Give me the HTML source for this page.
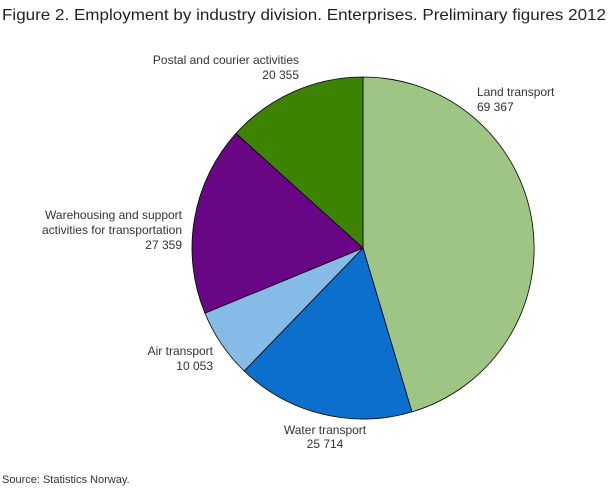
<!DOCTYPE html>
<html><head><meta charset="utf-8"><style>
html,body{margin:0;padding:0;background:#fff}
svg text{font-family:"Liberation Sans",sans-serif;fill:#333}
</style></head><body>
<svg width="610" height="488" viewBox="0 0 610 488">
<text x="2" y="20" font-size="16" textLength="604" lengthAdjust="spacingAndGlyphs" style="fill:#222">Figure 2. Employment  by industry division. Enterprises. Preliminary figures 2012</text>
<g stroke="#000" stroke-width="0.8">
<path d="M363,248 L363,77 A171,171 0 0 1 411.9,411.9 Z" fill="#9fc584"/>
<path d="M363,248 L411.9,411.9 A171,171 0 0 1 244.2,371 Z" fill="#0b6fcb"/>
<path d="M363,248 L244.2,371 A171,171 0 0 1 204.9,313.1 Z" fill="#86bbe8"/>
<path d="M363,248 L204.9,313.1 A171,171 0 0 1 236,133.4 Z" fill="#690686"/>
<path d="M363,248 L236,133.4 A171,171 0 0 1 363,77 Z" fill="#3b8300"/>
</g>
<g font-size="12">
<text x="299" y="64" text-anchor="end">Postal and courier activities</text>
<text x="299" y="79" text-anchor="end">20 355</text>
<text x="477" y="96">Land transport</text>
<text x="477" y="111">69 367</text>
<text x="182" y="219" text-anchor="end">Warehousing and support</text>
<text x="182" y="234" text-anchor="end">activities for transportation</text>
<text x="182" y="249" text-anchor="end">27 359</text>
<text x="213" y="355" text-anchor="end">Air transport</text>
<text x="213" y="370" text-anchor="end">10 053</text>
<text x="325" y="434" text-anchor="middle">Water transport</text>
<text x="325" y="448" text-anchor="middle">25 714</text>
<text x="2" y="483" font-size="11">Source: Statistics Norway.</text>
</g>
</svg>
</body></html>
